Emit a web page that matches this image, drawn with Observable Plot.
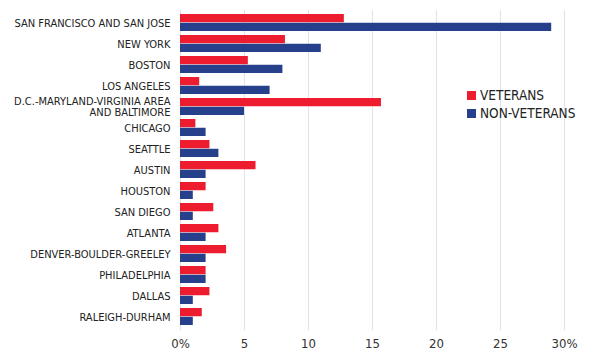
<!DOCTYPE html>
<html>
<head>
<meta charset="utf-8">
<script src="https://cdn.jsdelivr.net/npm/d3@7"></script>
<script src="https://cdn.jsdelivr.net/npm/@observablehq/plot@0.6"></script>
<style>
  html, body { margin: 0; padding: 0; background: #fff; }
  #wrap { position: relative; width: 600px; height: 357px; }
  .lab { font-family: "Liberation Sans Narrow", "DejaVu Sans Condensed", "Roboto", sans-serif; font-stretch: condensed; }
  #legend { position: absolute; left: 467px; top: 86px; font-size: 13.5px; color: #222; line-height: 18px; }
  #legend .sw { display: inline-block; width: 9px; height: 9px; margin-right: 4px; vertical-align: 0px; }
</style>
</head>
<body>
<div id="wrap"></div>
<script>
const cities = [
  "SAN FRANCISCO AND SAN JOSE",
  "NEW YORK",
  "BOSTON",
  "LOS ANGELES",
  "D.C.-MARYLAND-VIRGINIA AREA\nAND BALTIMORE",
  "CHICAGO",
  "SEATTLE",
  "AUSTIN",
  "HOUSTON",
  "SAN DIEGO",
  "ATLANTA",
  "DENVER-BOULDER-GREELEY",
  "PHILADELPHIA",
  "DALLAS",
  "RALEIGH-DURHAM"
];
const veterans =    [12.8, 8.2, 5.3, 1.5, 15.7, 1.2, 2.3, 5.9, 2.0, 2.6, 3.0, 3.6, 2.0, 2.3, 1.7];
const nonVeterans = [29.0, 11.0, 8.0, 7.0, 5.0, 2.0, 3.0, 2.0, 1.0, 1.0, 2.0, 2.0, 2.0, 1.0, 1.0];
const xTicks = [0, 5, 10, 15, 20, 25, 30];
const seriesNames = ["VETERANS", "NON-VETERANS"];
const seriesColors = ["#ed1c2e", "#27408b"];

const vetData = cities.map((c, i) => ({city: c, value: veterans[i]}));
const nonData = cities.map((c, i) => ({city: c, value: nonVeterans[i]}));

const height = 357, marginTop = 10, marginBottom = 27, pad = 0.17;
const step = (height - marginTop - marginBottom) / (cities.length + pad);
const half = step * (1 - pad) / 2;

const font = '"Liberation Sans Narrow", "DejaVu Sans Condensed", "Roboto", sans-serif';
const fmt = d => (d === 0 || d === 30) ? d + "%" : String(d);

const chart = Plot.plot({
  width: 600,
  height,
  marginLeft: 180,
  marginRight: 36,
  marginTop,
  marginBottom,
  style: {fontFamily: font, fontSize: "11px", color: "#222", background: "#fff"},
  x: {domain: [0, 30], ticks: xTicks, tickFormat: fmt, label: null},
  y: {domain: cities, padding: pad, label: null},
  marks: [
    Plot.gridX(xTicks, {stroke: "#dfe3e6", strokeOpacity: 1, strokeWidth: 1}),
    Plot.barX(vetData, {x: "value", y: "city", fill: seriesColors[0], insetBottom: half}),
    Plot.barX(nonData, {x: "value", y: "city", fill: seriesColors[1], insetTop: half}),
    Plot.axisY({tickSize: 0, tickPadding: 10, fontSize: 11, lineHeight: 1.05, fill: "#222"}),
    Plot.axisX(xTicks, {tickSize: 0, tickPadding: 8, fontSize: 13, fill: "#333", tickFormat: fmt})
  ]
});
const wrap = document.getElementById("wrap");
wrap.appendChild(chart);
const leg = document.createElement("div");
leg.id = "legend";
leg.className = "lab";
leg.innerHTML = seriesNames.map((n, i) => `<div><span class="sw" style="background:${seriesColors[i]}"></span>${n}</div>`).join("");
wrap.appendChild(leg);
</script>
</body>
</html>
